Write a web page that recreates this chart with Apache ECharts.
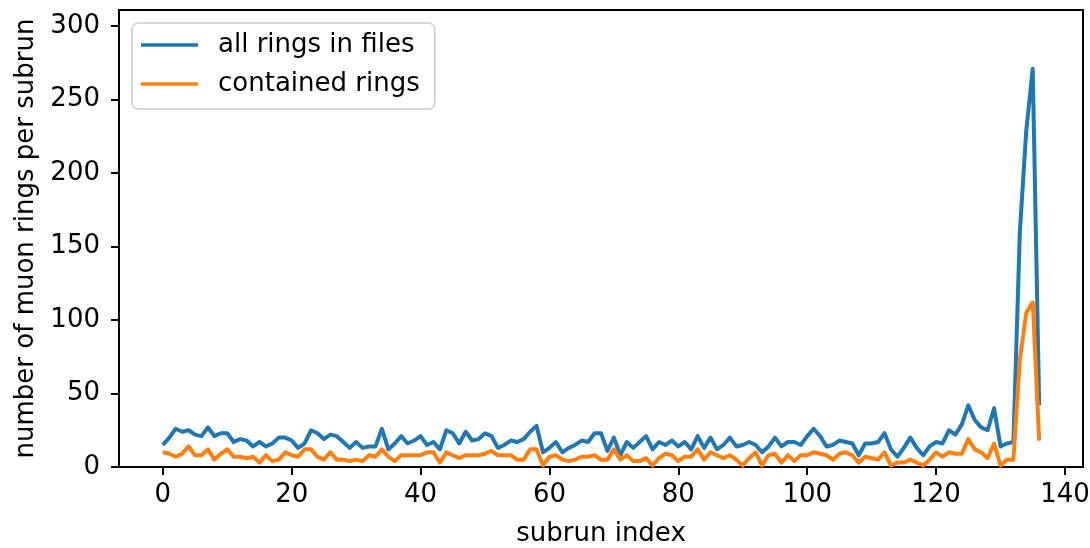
<!DOCTYPE html>
<html>
<head>
<meta charset="utf-8">
<script src="https://cdn.jsdelivr.net/npm/echarts@6/dist/echarts.min.js"></script>
<style>
html,body{margin:0;padding:0;background:#fff;}
#chart{width:1090px;height:548px;}
</style>
</head>
<body>
<div id="chart"></div>
<script>
const allRings = [15,20,26,24,25,22,21,27,21,23,23,17,19,18,14,17,14,16,20,20,18,13,16,25,23,19,22,21,17,13,17,13,14,14,
26,12,16,21,16,18,21,15,17,12,25,23,16,24,18,19,23,21,13,15,18,17,19,24,28,10,13,17,10,13,15,18,17,23,23,
11,20,8,17,13,17,21,12,17,15,18,14,17,12,21,13,20,12,15,20,14,15,17,15,10,14,20,14,17,17,15,21,26,21,
14,15,18,17,16,8,16,16,17,23,12,7,13,20,13,8,14,17,16,25,22,29,42,32,27,25,40,14,16,17,160,229,271,42];
const containedRings = [10,9,7,9,14,8,8,12,5,9,12,7,7,6,7,3,8,4,5,10,8,7,12,12,7,5,10,5,5,4,5,4,8,7,
12,7,4,8,8,8,8,10,10,3,10,8,6,8,8,8,9,11,8,8,8,5,5,12,12,1,7,8,5,4,5,7,7,8,5,
5,12,5,8,4,4,6,1,6,9,8,4,7,7,12,5,10,8,6,8,5,1,6,10,1,8,9,3,8,4,8,8,10,9,
8,5,9,10,8,3,7,6,5,10,1,3,3,5,3,1,5,10,7,10,9,9,19,12,10,6,16,1,5,5,73,105,112,18];
const seriesNames = ['all rings in files', 'contained rings'];
const xTicks = [0,20,40,60,80,100,120,140];
const yTicks = [0,50,100,150,200,250,300];
const xTitle = 'subrun index';
const yTitle = 'number of muon rings per subrun';

const FONT = 'DejaVu Sans';
const FS = 26;
const toPairs = arr => arr.map((v, i) => [i, v]);

const chart = echarts.init(document.getElementById('chart'), null, {renderer: 'canvas'});
chart.setOption({
  animation: false,
  backgroundColor: '#ffffff',
  textStyle: {fontFamily: FONT},
  grid: {left: 119, right: 7, top: 10, bottom: 81, show: true, borderColor: '#000', borderWidth: 2,
         containLabel: false, outerBoundsMode: 'none'},
  legend: {
    orient: 'vertical', left: 132, top: 23,
    data: seriesNames,
    icon: 'rect', itemWidth: 57, itemHeight: 3.5, itemGap: 13,
    padding: [9, 15, 12, 9],
    backgroundColor: 'rgba(255,255,255,0.8)',
    borderColor: '#cccccc', borderWidth: 1.5, borderRadius: 6,
    textStyle: {fontFamily: FONT, fontSize: FS, color: '#000', lineHeight: 26, padding: [0, 0, 0, 15]}
  },
  xAxis: {
    type: 'value', min: -6.8, max: 142.8,
    name: xTitle, nameLocation: 'middle', nameGap: 54,
    nameTextStyle: {fontFamily: FONT, fontSize: FS, color: '#000'},
    axisLine: {show: true, onZero: false, lineStyle: {color: '#000', width: 2}},
    axisTick: {show: true, length: 8, lineStyle: {color: '#000', width: 2}, customValues: xTicks},
    axisLabel: {fontFamily: FONT, fontSize: FS, color: '#000', margin: 15, customValues: xTicks},
    splitLine: {show: false}
  },
  yAxis: {
    type: 'value', min: 0, max: 311,
    name: yTitle, nameLocation: 'middle', nameGap: 68,
    nameTextStyle: {fontFamily: FONT, fontSize: FS, color: '#000'},
    axisLine: {show: true, onZero: false, lineStyle: {color: '#000', width: 2}},
    axisTick: {show: true, length: 8, lineStyle: {color: '#000', width: 2}, customValues: yTicks},
    axisLabel: {fontFamily: FONT, fontSize: FS, color: '#000', margin: 19, customValues: yTicks},
    splitLine: {show: false}
  },
  series: [
    {name: seriesNames[0], type: 'line', data: toPairs(allRings), showSymbol: false, symbol: 'none',
     color: '#1f77b4', lineStyle: {color: '#1f77b4', width: 4, join: 'round'}},
    {name: seriesNames[1], type: 'line', data: toPairs(containedRings), showSymbol: false, symbol: 'none',
     color: '#ff7f0e', lineStyle: {color: '#ff7f0e', width: 4, join: 'round'}}
  ]
});
</script>
</body>
</html>
